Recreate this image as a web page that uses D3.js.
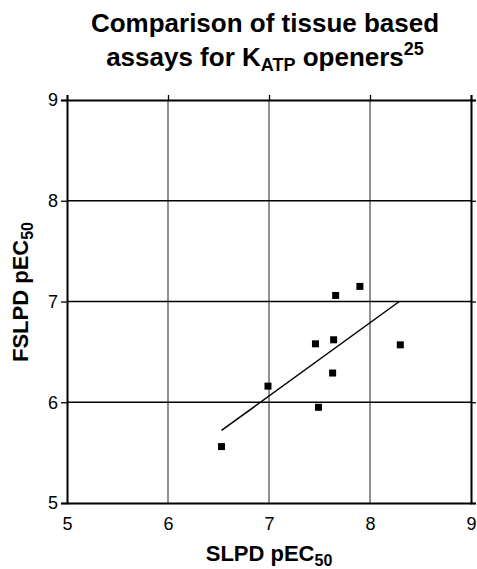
<!DOCTYPE html>
<html>
<head>
<meta charset="utf-8">
<script src="https://cdn.jsdelivr.net/npm/d3@7"></script>
<style>
  body { margin: 0; background: #fff; }
  svg text { font-family: "Liberation Sans", Arial, sans-serif; fill: #000; }
</style>
</head>
<body>
<div class="chart"></div>
<script>
// SLPD vs FSLPD pEC50 values
const slpd = [6.53, 6.99, 7.46, 7.64, 7.63, 7.49, 7.66, 7.90, 8.30];
const fslpd = [5.56, 6.16, 6.58, 6.62, 6.29, 5.95, 7.06, 7.15, 6.57];

// regression line end points
const fitX = [6.53, 8.29];
const fitY = [5.72, 7.00];

const ticks = [5, 6, 7, 8, 9];

const WIDTH = 477, HEIGHT = 569;
const margin = { top: 100, right: 6, bottom: 66, left: 67 };
const w = WIDTH - margin.left - margin.right;
const h = HEIGHT - margin.top - margin.bottom;

const svg = d3.select(".chart").append("svg")
  .attr("width", WIDTH)
  .attr("height", HEIGHT);

const g = svg.append("g")
  .attr("transform", `translate(${margin.left},${margin.top})`);

const x = d3.scaleLinear().domain([5, 9]).range([0, w]);
const y = d3.scaleLinear().domain([5, 9]).range([h, 0]);

// grid lines
g.selectAll(".vgrid")
  .data(ticks.slice(1, -1))
  .enter().append("line")
  .attr("x1", d => x(d)).attr("x2", d => x(d))
  .attr("y1", 0).attr("y2", h)
  .attr("stroke", "#222").attr("stroke-width", 1);

g.selectAll(".hgrid")
  .data(ticks.slice(1, -1))
  .enter().append("line")
  .attr("x1", 0).attr("x2", w)
  .attr("y1", d => y(d)).attr("y2", d => y(d))
  .attr("stroke", "#000").attr("stroke-width", 1.5);

// axes
const fmt = d3.format("d");
const xAxis = g.append("g")
  .attr("transform", `translate(0,${h})`)
  .call(d3.axisBottom(x).tickValues(ticks).tickFormat(fmt).tickSize(0).tickPadding(14));

const yAxis = g.append("g")
  .call(d3.axisLeft(y).tickValues(ticks).tickFormat(fmt).tickSize(6).tickPadding(3));

const topAxis = g.append("g")
  .call(d3.axisTop(x).tickValues(ticks).tickSize(5).tickFormat(""));

const rightAxis = g.append("g")
  .attr("transform", `translate(${w},0)`)
  .call(d3.axisRight(y).tickValues(ticks).tickSize(5).tickFormat(""));

[xAxis, yAxis, topAxis, rightAxis].forEach(a => {
  a.select(".domain").attr("stroke", "#000").attr("stroke-width", 2);
  a.selectAll(".tick line").attr("stroke", "#000").attr("stroke-width", 1.3);
  a.selectAll("text").attr("font-size", 18).attr("font-family", "Liberation Sans, Arial, sans-serif");
});

// fit line
g.append("line")
  .attr("x1", x(fitX[0])).attr("y1", y(fitY[0]))
  .attr("x2", x(fitX[1])).attr("y2", y(fitY[1]))
  .attr("stroke", "#000").attr("stroke-width", 1.5);

// points
g.selectAll(".pt")
  .data(slpd.map((d, i) => ({ sx: d, fy: fslpd[i] })))
  .enter().append("rect")
  .attr("x", d => x(d.sx) - 3.5)
  .attr("y", d => y(d.fy) - 3.5)
  .attr("width", 7).attr("height", 7)
  .attr("fill", "#000");

// title
const title = svg.append("text")
  .attr("text-anchor", "middle")
  .attr("font-size", 26).attr("font-weight", "bold");
title.append("tspan").attr("x", 265).attr("y", 32).text("Comparison of tissue based");
const t2 = title.append("tspan").attr("x", 265).attr("y", 66);
t2.append("tspan").text("assays for K");
t2.append("tspan").attr("dy", 5).attr("font-size", 18).text("ATP");
t2.append("tspan").attr("dy", -5).text(" openers");
t2.append("tspan").attr("dy", -11).attr("font-size", 18).text("25");

// x axis title
const xt = svg.append("text")
  .attr("text-anchor", "middle")
  .attr("x", 269).attr("y", 561)
  .attr("font-size", 22).attr("font-weight", "bold");
xt.append("tspan").text("SLPD pEC");
xt.append("tspan").attr("dy", 5).attr("font-size", 16).text("50");

// y axis title
const yt = svg.append("text")
  .attr("text-anchor", "middle")
  .attr("transform", "translate(28,292) rotate(-90)")
  .attr("font-size", 22).attr("font-weight", "bold");
yt.append("tspan").text("FSLPD pEC");
yt.append("tspan").attr("dy", 5).attr("font-size", 16).text("50");
</script>
</body>
</html>
